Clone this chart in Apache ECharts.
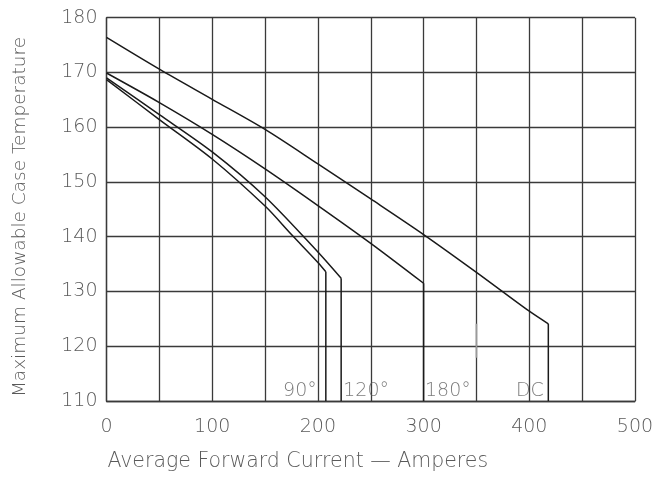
<!DOCTYPE html>
<html>
<head>
<meta charset="utf-8">
<script src="https://cdn.jsdelivr.net/npm/echarts@6/dist/echarts.min.js"></script>
<style>
html,body{margin:0;padding:0;background:#fff;}
#chart{width:670px;height:477px;}
</style>
</head>
<body>
<div id="chart"></div>
<script>
// X axis: Average Forward Current (A), Y axis: Max allowable case temperature
const xTicks = [0, 100, 200, 300, 400, 500];
const yTicks = [110, 120, 130, 140, 150, 160, 170, 180];
const xTitle = 'Average Forward Current — Amperes';
const yTitle = 'Maximum Allowable Case Temperature';

// Curves (x = current, y = temperature), sloped part
const curveDC  = [[0,176.4],[50,170.6],[100,165.1],[150,159.6],[200,153.3],[250,146.9],[300,140.4],[350,133.5],[400,126.4],[418,124.1]];
const curve180 = [[0,169.9],[50,164.5],[100,158.7],[150,152.4],[200,145.7],[250,138.8],[300,131.5]];
const curve120 = [[0,169.0],[50,162.3],[100,155.5],[150,147.3],[200,137.2],[222,132.4]];
const curve90  = [[0,168.7],[50,161.4],[100,154.2],[150,145.6],[175,140.4],[200,135.3],[207.5,133.6]];
// vertical drops at the end of each curve
const dropDC  = [[418,124.1],[418,110]];
const drop180 = [[300,131.5],[300,110]];
const drop120 = [[222,132.4],[222,110]];
const drop90  = [[207.5,133.6],[207.5,110]];
const extraMark = [[350,124.1],[350,117.9]];

// Curve labels
const labelNames = ['90°', '120°', '180°', 'DC'];
const labelX = [183, 245.6, 323, 400.6];
const labelY = [111.8, 111.8, 111.8, 111.8];

const FONT = 'DejaVu Sans';
const TXT = '#5a5a5a';
const GRID = '#3a3a3a';
const LINE = '#1a1a1a';

const chart = echarts.init(document.getElementById('chart'), null, {renderer: 'canvas'});

function lineSeries(data, smooth, color, width) {
  return {
    type: 'line', data: data, showSymbol: false, symbol: 'none', smooth: smooth,
    lineStyle: {color: color || LINE, width: width || 1.5},
    animation: false, silent: true, z: 3
  };
}

chart.setOption({
  animation: false,
  backgroundColor: '#fff',
  grid: {left: 106.5, right: 35, top: 17.7, bottom: 75.3, containLabel: false},
  graphic: [{
    type: 'text', x: 20, y: 217, rotation: Math.PI / 2, silent: true,
    style: {
      text: yTitle, fill: TXT, align: 'center', verticalAlign: 'middle',
      fontFamily: FONT, fontSize: 18.5, fontWeight: 'lighter'
    }
  }],
  xAxis: {
    type: 'value', min: 0, max: 500, interval: 50,
    name: xTitle,
    nameLocation: 'middle', nameGap: 50,
    nameTextStyle: {fontFamily: FONT, fontSize: 20.5, color: TXT, fontWeight: 'lighter', padding: [0, 146, 0, 0]},
    axisLine: {show: true, lineStyle: {color: GRID, width: 1.3}},
    axisTick: {show: false},
    axisLabel: {
      margin: 17, fontFamily: FONT, fontSize: 19, color: TXT, fontWeight: 'lighter',
      formatter: function (v) { return xTicks.indexOf(v) >= 0 ? String(v) : ''; }
    },
    splitLine: {show: true, lineStyle: {color: GRID, width: 1.3}}
  },
  yAxis: {
    type: 'value', min: 110, max: 180, interval: 10,
    axisLine: {show: true, lineStyle: {color: GRID, width: 1.3}},
    axisTick: {show: false},
    axisLabel: {
      margin: 9, fontFamily: FONT, fontSize: 19, color: TXT, fontWeight: 'lighter',
      formatter: function (v) { return yTicks.indexOf(v) >= 0 ? String(v) : ''; }
    },
    splitLine: {show: true, lineStyle: {color: GRID, width: 1.3}}
  },
  series: [
    lineSeries(curveDC, 0.3),
    lineSeries(curve180, 0.3),
    lineSeries(curve120, 0.3),
    lineSeries(curve90, 0.3),
    lineSeries(dropDC, false),
    lineSeries(drop180, false),
    lineSeries(drop120, false),
    lineSeries(drop90, false),
    lineSeries(extraMark, false, '#9a9a9a', 1.6),
    {
      type: 'scatter', symbolSize: 0, silent: true, z: 4,
      data: labelNames.map(function (n, i) { return {value: [labelX[i], labelY[i]], name: n}; }),
      label: {
        show: true, position: 'inside', formatter: '{b}',
        fontFamily: FONT, fontSize: 19, color: TXT, fontWeight: 'lighter'
      }
    }
  ]
});
</script>
</body>
</html>
